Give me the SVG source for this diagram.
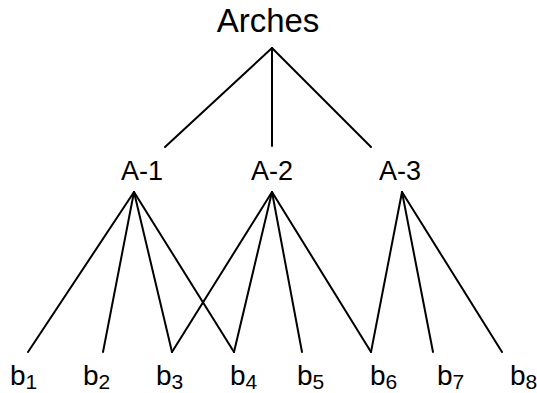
<svg xmlns="http://www.w3.org/2000/svg" width="537" height="393" viewBox="0 0 537 393">
<style>
text{font-family:"Liberation Sans",Arial,sans-serif;fill:#000}
.lbl{text-anchor:middle}
.b{font-size:28px}
.s{font-size:21px}
line{stroke:#000;stroke-width:2;stroke-linecap:round}
</style>
<rect width="537" height="393" fill="#fff"/>
<g id="connectors">
<line x1="272" y1="48" x2="165" y2="147"/>
<line x1="272" y1="48" x2="272" y2="146"/>
<line x1="272" y1="48" x2="371" y2="147"/>
<line x1="134" y1="192" x2="28" y2="352"/>
<line x1="134" y1="192" x2="103" y2="352"/>
<line x1="134" y1="192" x2="172" y2="352"/>
<line x1="134" y1="192" x2="234" y2="352"/>
<line x1="272" y1="192" x2="172" y2="352"/>
<line x1="272" y1="192" x2="234" y2="352"/>
<line x1="272" y1="192" x2="302" y2="352"/>
<line x1="272" y1="192" x2="371" y2="352"/>
<line x1="402" y1="192" x2="371" y2="352"/>
<line x1="402" y1="192" x2="433" y2="352"/>
<line x1="402" y1="192" x2="502" y2="352"/>
</g>
<g id="arches"><text class="lbl" x="268" y="32" font-size="33">Arches</text></g>
<g id="a1"><text class="lbl" x="142" y="180" font-size="27">A-1</text></g>
<g id="a2"><text class="lbl" x="272" y="180" font-size="27">A-2</text></g>
<g id="a3"><text class="lbl" x="400" y="180" font-size="27">A-3</text></g>
<g id="b1"><text class="b" x="10" y="385">b<tspan class="s" dy="4">1</tspan></text></g>
<g id="b2"><text class="b" x="83" y="385">b<tspan class="s" dy="4">2</tspan></text></g>
<g id="b3"><text class="b" x="156" y="385">b<tspan class="s" dy="4">3</tspan></text></g>
<g id="b4"><text class="b" x="230" y="385">b<tspan class="s" dy="4">4</tspan></text></g>
<g id="b5"><text class="b" x="297" y="385">b<tspan class="s" dy="4">5</tspan></text></g>
<g id="b6"><text class="b" x="370" y="385">b<tspan class="s" dy="4">6</tspan></text></g>
<g id="b7"><text class="b" x="437" y="385">b<tspan class="s" dy="4">7</tspan></text></g>
<g id="b8"><text class="b" x="510" y="385">b<tspan class="s" dy="4">8</tspan></text></g>
</svg>
